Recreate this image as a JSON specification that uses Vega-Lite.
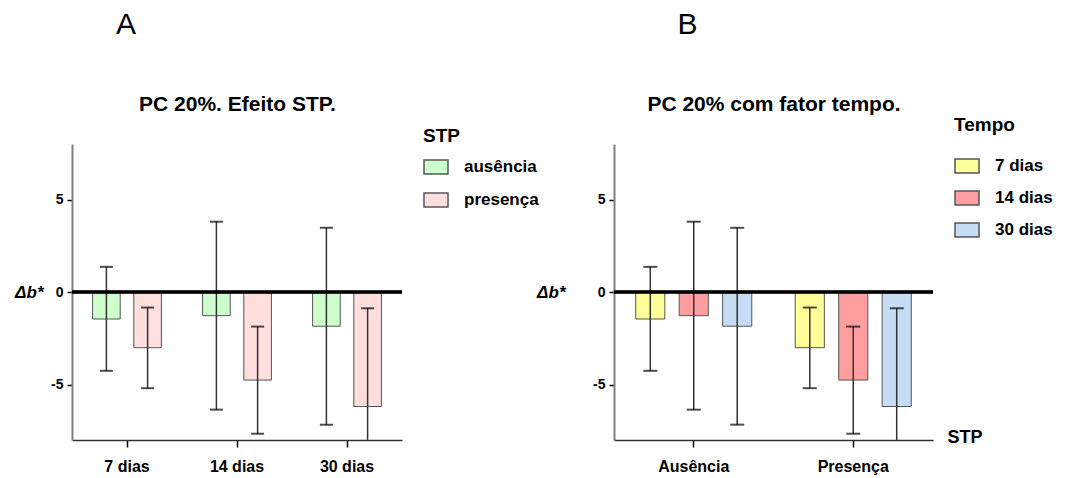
{
  "$schema": "https://vega.github.io/schema/vega-lite/v6.json",
  "padding": {"left": 14, "top": 10, "right": 5, "bottom": 5},
  "background": "white",
  "datasets": {
    "d": [
      {"tempo": "7 dias", "stp": "ausência", "mean": -1.46, "low": -4.26, "high": 1.36},
      {"tempo": "7 dias", "stp": "presença", "mean": -3.01, "low": -5.2, "high": -0.84},
      {"tempo": "14 dias", "stp": "ausência", "mean": -1.28, "low": -6.36, "high": 3.8},
      {"tempo": "14 dias", "stp": "presença", "mean": -4.76, "low": -7.66, "high": -1.87},
      {"tempo": "30 dias", "stp": "ausência", "mean": -1.85, "low": -7.17, "high": 3.47},
      {"tempo": "30 dias", "stp": "presença", "mean": -6.19, "low": -11.5, "high": -0.88}
    ]
  },
  "hconcat": [
    {
      "width": 330,
      "height": 296,
      "data": {"name": "d"},
      "title": {
        "text": "A",
        "anchor": "middle",
        "frame": "group",
        "dx": -111,
        "fontSize": 30,
        "fontWeight": "normal",
        "font": "Liberation Sans",
        "color": "black",
        "offset": 53
      },
      "resolve": {"axis": {"x": "independent"}},
      "layer": [
        {
          "mark": {"type": "bar", "stroke": "#555", "strokeWidth": 1, "clip": true},
          "encoding": {
            "x": {
              "field": "tempo", "type": "nominal",
              "sort": ["7 dias", "14 dias", "30 dias"],
              "scale": {"paddingInner": 0, "paddingOuter": 0},
              "axis": {"title": null}
            },
            "xOffset": {
              "field": "stp", "type": "nominal",
              "sort": ["ausência", "presença"],
              "scale": {"paddingInner": 0.33, "paddingOuter": 0.5}
            },
            "y": {
              "field": "mean", "type": "quantitative",
              "scale": {"domain": [-8, 8], "nice": false},
              "axis": {
                "values": [-5, 0, 5], "title": "Δb*",
                "labelExpr": "'' + datum.value",
                "titleX": -29, "titleY": 148.5
              }
            },
            "fill": {
              "field": "stp", "type": "nominal",
              "sort": ["ausência", "presença"],
              "scale": {"range": ["#ccffcc", "#ffdede"]},
              "legend": {
                "title": "STP",
                "orient": "none",
                "legendX": 351,
                "legendY": -17,
                "titlePadding": 8,
                "rowPadding": 10
              }
            }
          }
        },
        {
          "mark": {"type": "rule", "color": "#333", "strokeWidth": 1.5, "clip": true},
          "encoding": {
            "x": {"field": "tempo", "type": "nominal", "sort": ["7 dias", "14 dias", "30 dias"], "axis": null},
            "xOffset": {"field": "stp", "type": "nominal", "sort": ["ausência", "presença"]},
            "y": {"field": "low", "type": "quantitative"},
            "y2": {"field": "high"}
          }
        },
        {
          "mark": {"type": "tick", "orient": "horizontal", "size": 13, "thickness": 2, "color": "black", "clip": true},
          "encoding": {
            "x": {"field": "tempo", "type": "nominal", "sort": ["7 dias", "14 dias", "30 dias"], "axis": null},
            "xOffset": {"field": "stp", "type": "nominal", "sort": ["ausência", "presença"]},
            "y": {"field": "low", "type": "quantitative"}
          }
        },
        {
          "mark": {"type": "tick", "orient": "horizontal", "size": 13, "thickness": 2, "color": "black", "clip": true},
          "encoding": {
            "x": {
              "field": "tempo", "type": "nominal", "sort": ["7 dias", "14 dias", "30 dias"],
              "axis": {
                "orient": "top", "labels": false, "ticks": false, "domain": false,
                "title": "PC 20%. Efeito STP.", "titleFontSize": 21, "titlePadding": 30
              }
            },
            "xOffset": {"field": "stp", "type": "nominal", "sort": ["ausência", "presença"]},
            "y": {"field": "high", "type": "quantitative"}
          }
        },
        {
          "mark": {"type": "rule", "color": "black", "strokeWidth": 2.5, "clip": true},
          "encoding": {"y": {"datum": 0}}
        }
      ]
    },
    {
      "width": 319,
      "height": 296,
      "data": {"name": "d"},
      "title": {
        "text": "B",
        "anchor": "middle",
        "frame": "group",
        "dx": -86,
        "fontSize": 30,
        "fontWeight": "normal",
        "font": "Liberation Sans",
        "color": "black",
        "offset": 53
      },
      "resolve": {"axis": {"x": "independent"}},
      "layer": [
        {
          "mark": {"type": "bar", "stroke": "#555", "strokeWidth": 1, "clip": true},
          "encoding": {
            "x": {
              "field": "stp", "type": "nominal",
              "sort": ["ausência", "presença"],
              "scale": {"paddingInner": 0, "paddingOuter": 0},
              "axis": {
                "title": "STP",
                "labelExpr": "upper(slice(datum.label, 0, 1)) + slice(datum.label, 1)",
                "titleX": 333, "titleY": -3,
                "titleAlign": "left", "titleBaseline": "middle",
                "titleFontSize": 18
              }
            },
            "xOffset": {
              "field": "tempo", "type": "nominal",
              "sort": ["7 dias", "14 dias", "30 dias"],
              "scale": {"paddingInner": 0.33, "paddingOuter": 0.5}
            },
            "y": {
              "field": "mean", "type": "quantitative",
              "scale": {"domain": [-8, 8], "nice": false},
              "axis": {
                "values": [-5, 0, 5], "title": "Δb*",
                "labelExpr": "'' + datum.value",
                "titleX": -49, "titleY": 148.5
              }
            },
            "fill": {
              "field": "tempo", "type": "nominal",
              "sort": ["7 dias", "14 dias", "30 dias"],
              "scale": {"range": ["#ffff99", "#ff9e9e", "#c6dcf5"]},
              "legend": {
                "title": "Tempo",
                "orient": "none",
                "legendX": 340,
                "legendY": -28,
                "titlePadding": 18,
                "rowPadding": 9
              }
            }
          }
        },
        {
          "mark": {"type": "rule", "color": "#333", "strokeWidth": 1.5, "clip": true},
          "encoding": {
            "x": {"field": "stp", "type": "nominal", "sort": ["ausência", "presença"], "axis": null},
            "xOffset": {"field": "tempo", "type": "nominal", "sort": ["7 dias", "14 dias", "30 dias"]},
            "y": {"field": "low", "type": "quantitative"},
            "y2": {"field": "high"}
          }
        },
        {
          "mark": {"type": "tick", "orient": "horizontal", "size": 14, "thickness": 2, "color": "black", "clip": true},
          "encoding": {
            "x": {"field": "stp", "type": "nominal", "sort": ["ausência", "presença"], "axis": null},
            "xOffset": {"field": "tempo", "type": "nominal", "sort": ["7 dias", "14 dias", "30 dias"]},
            "y": {"field": "low", "type": "quantitative"}
          }
        },
        {
          "mark": {"type": "tick", "orient": "horizontal", "size": 14, "thickness": 2, "color": "black", "clip": true},
          "encoding": {
            "x": {
              "field": "stp", "type": "nominal", "sort": ["ausência", "presença"],
              "axis": {
                "orient": "top", "labels": false, "ticks": false, "domain": false,
                "title": "PC 20% com fator tempo.", "titleFontSize": 21, "titlePadding": 30
              }
            },
            "xOffset": {"field": "tempo", "type": "nominal", "sort": ["7 dias", "14 dias", "30 dias"]},
            "y": {"field": "high", "type": "quantitative"}
          }
        },
        {
          "mark": {"type": "rule", "color": "black", "strokeWidth": 2.5, "clip": true},
          "encoding": {"y": {"datum": 0}}
        }
      ]
    }
  ],
  "spacing": 212,
  "bounds": "flush",
  "resolve": {
    "scale": {"x": "independent", "xOffset": "independent", "y": "independent", "fill": "independent"},
    "legend": {"fill": "independent"}
  },
  "config": {
    "view": {"stroke": null},
    "font": "Liberation Sans",
    "axis": {
      "grid": false,
      "labelFont": "Liberation Sans",
      "labelFontWeight": "bold",
      "labelColor": "black",
      "titleFont": "Liberation Sans",
      "titleFontWeight": "bold",
      "titleColor": "black",
      "tickColor": "black",
      "tickWidth": 1.5
    },
    "axisX": {
      "domainColor": "#333",
      "domainWidth": 1.5,
      "tickSize": 7,
      "labelFontSize": 16,
      "labelPadding": 11,
      "labelAngle": 0
    },
    "axisY": {
      "domainColor": "#808080",
      "domainWidth": 2,
      "tickSize": 5,
      "labelFontSize": 14,
      "labelPadding": 4,
      "titleAngle": 0,
      "titleAlign": "right",
      "titleBaseline": "middle",
      "titleFontStyle": "italic",
      "titleFontSize": 17
    },
    "legend": {
      "padding": 0,
      "titleFont": "Liberation Sans",
      "titleFontSize": 19,
      "titleFontWeight": "bold",
      "titleColor": "black",
      "labelFont": "Liberation Sans",
      "labelFontSize": 17,
      "labelFontWeight": "bold",
      "labelColor": "black",
      "labelOffset": 15,
      "symbolType": "M-1,-0.583H1V0.583H-1Z",
      "symbolSize": 576,
      "symbolStrokeColor": "#555",
      "symbolStrokeWidth": 1.5
    }
  }
}
